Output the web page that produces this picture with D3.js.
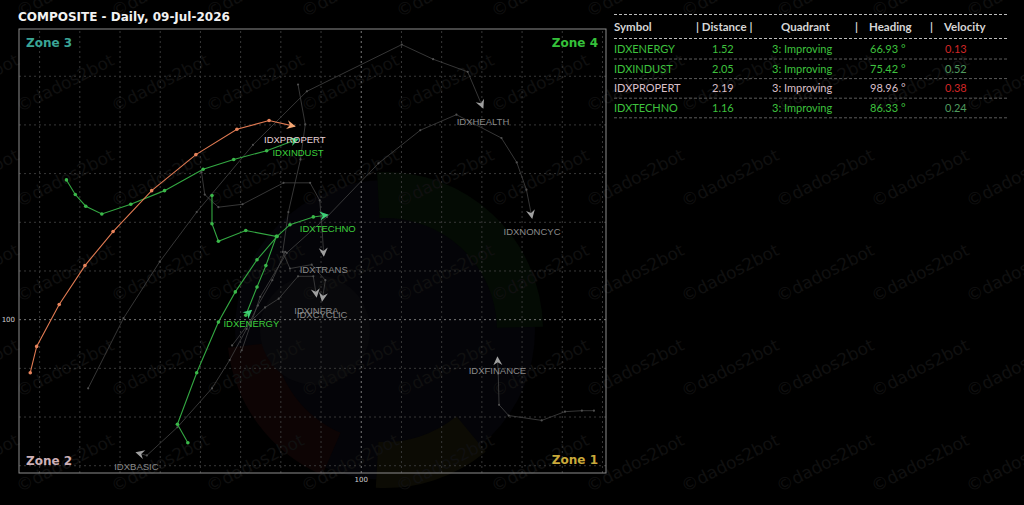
<!DOCTYPE html>
<html>
<head>
<meta charset="utf-8">
<script src="https://cdn.jsdelivr.net/npm/d3@7"></script>
<style>
    body { margin: 0; background: #000; }
    svg { display: block; }
</style>
</head>
<body>
<svg id="chart"></svg>
<script>
    // ---- DATA ----
    // table
    let symbols = ["IDXENERGY", "IDXINDUST", "IDXPROPERT", "IDXTECHNO"]
    let distances = ["1.52", "2.05", "2.19", "1.16"]
    let quadrants = ["3: Improving", "3: Improving", "3: Improving", "3: Improving"]
    let headings = ["66.93 °", "75.42 °", "98.96 °", "86.33 °"]
    let velocities = ["0.13", "0.52", "0.38", "0.24"]

    // tails: RS-ratio (x) and RS-momentum (y), oldest first
    let propertRatio = [95.89, 95.97, 96.25, 96.57, 96.92, 97.40, 97.95, 98.46, 98.86, 99.18]
    let propertMomentum = [99.45, 99.72, 100.15, 100.55, 100.90, 101.32, 101.69, 101.95, 102.04, 101.98]
    let industRatio = [96.34, 96.45, 96.58, 96.78, 97.14, 97.56, 98.04, 98.42, 98.83, 99.22]
    let industMomentum = [101.43, 101.28, 101.16, 101.08, 101.18, 101.32, 101.54, 101.64, 101.73, 101.85]
    let technoRatio = [97.85, 97.72, 97.96, 98.23, 98.44, 98.71, 98.96, 99.12, 99.41, 99.59]
    let technoMomentum = [98.73, 98.92, 99.45, 99.97, 100.28, 100.61, 100.85, 100.97, 101.05, 101.07]
    let energyRatio = [98.15, 98.15, 98.23, 98.57, 98.95, 98.82, 98.71, 98.57, 98.64]
    let energyMomentum = [101.27, 100.98, 100.80, 100.91, 100.85, 100.55, 100.33, 100.04, 100.09]
    let healthRatio = [96.61, 97.05, 97.50, 97.96, 98.66, 99.33, 100.51, 100.90, 101.33, 101.52]
    let healthMomentum = [99.29, 100.01, 100.59, 101.10, 101.79, 102.34, 102.82, 102.67, 102.54, 102.17]
    let noncycRatio = [98.52, 98.75, 99.08, 99.58, 100.22, 100.74, 101.19, 101.75, 101.94, 102.06, 102.13]
    let noncycMomentum = [99.68, 100.23, 100.68, 101.05, 101.60, 101.94, 102.10, 101.86, 101.61, 101.33, 101.04]
    let transRatio = [98.02, 98.06, 98.23, 98.53, 99.04, 99.37, 99.49, 99.52, 99.54]
    let transMomentum = [101.51, 101.28, 101.15, 101.18, 101.40, 101.40, 101.22, 100.92, 100.65]
    let cyclicRatio = [99.22, 99.31, 99.25, 99.10, 99.03, 99.12, 99.39, 99.56, 99.52]
    let cyclicMomentum = [102.41, 102.00, 101.64, 101.10, 100.69, 100.52, 100.56, 100.40, 100.19]
    let infraRatio = [98.40, 98.62, 98.81, 98.98, 99.22, 99.41, 99.45]
    let infraMomentum = [99.73, 99.97, 100.12, 100.21, 100.44, 100.44, 100.23]
    let basicRatio = [99.06, 98.90, 98.72, 98.58, 98.37, 98.15, 97.72, 97.34, 97.21]
    let basicMomentum = [100.69, 100.40, 100.14, 99.90, 99.58, 99.29, 98.89, 98.60, 98.63]
    let financeRatio = [102.90, 102.75, 102.54, 102.25, 101.84, 101.72, 101.71, 101.70]
    let financeMomentum = [99.06, 99.06, 99.05, 98.96, 99.01, 99.12, 99.44, 99.61]

    let xTicks = [100]
    let yTicks = [100]
    let zoneNames = ["Zone 1", "Zone 2", "Zone 3", "Zone 4"]

    let series = [
        { name: "IDXHEALTH", ratio: healthRatio, momentum: healthMomentum },
        { name: "IDXNONCYC", ratio: noncycRatio, momentum: noncycMomentum },
        { name: "IDXTRANS", ratio: transRatio, momentum: transMomentum },
        { name: "IDXCYCLIC", ratio: cyclicRatio, momentum: cyclicMomentum },
        { name: "IDXINFRA", ratio: infraRatio, momentum: infraMomentum },
        { name: "IDXBASIC", ratio: basicRatio, momentum: basicMomentum },
        { name: "IDXFINANCE", ratio: financeRatio, momentum: financeMomentum },
        { name: "IDXENERGY", ratio: energyRatio, momentum: energyMomentum },
        { name: "IDXTECHNO", ratio: technoRatio, momentum: technoMomentum },
        { name: "IDXINDUST", ratio: industRatio, momentum: industMomentum },
        { name: "IDXPROPERT", ratio: propertRatio, momentum: propertMomentum },
    ]

    // ---- LAYOUT ----
    let width = 1024, height = 505
    let plot = { left: 19, right: 606, top: 29, bottom: 473 }

    let svg = d3.select("#chart").attr("width", width).attr("height", height)
    svg.append("rect").attr("width", width).attr("height", height).attr("fill", "#000")

    let x = d3.scaleLinear().domain([95.75, 103.05]).range([plot.left, plot.right])
    let y = d3.scaleLinear().domain([98.42, 102.98]).range([plot.bottom, plot.top])

    drawLogo()
    drawWatermark()
    drawGrid()
    drawZones()
    drawTails()
    drawTitle()
    drawTable()

    function drawLogo() {
        // very faint background logo behind the plot
        let g = svg.append("g").attr("transform", "translate(385,330)")
        g.append("circle").attr("r", 150).attr("fill", "#040408")
        let arc = d3.arc().innerRadius(112).outerRadius(158)
        let parts = [
            { a0: -0.05, a1: 1.55, c: "#040b04" },
            { a0: 3.55, a1: 4.6, c: "#0d0404" },
            { a0: 2.45, a1: 3.2, c: "#0c0b04" },
        ]
        g.selectAll("path").data(parts).enter().append("path")
            .attr("d", d => arc({ startAngle: d.a0, endAngle: d.a1 }))
            .attr("fill", d => d.c)
        g.append("circle").attr("cx", -70).attr("cy", 0).attr("r", 55).attr("fill", "#08080b")
    }

    function drawWatermark() {
        let g = svg.append("g")
        for (let i = -1; i < 12; i++) {
            for (let j = -1; j < 6; j++) {
                let cx = 65 + 95 * i, cy = 83 + 95 * j
                g.append("text")
                    .attr("transform", `translate(${cx},${cy}) rotate(-27)`)
                    .attr("text-anchor", "middle")
                    .attr("dominant-baseline", "central")
                    .attr("font-family", "DejaVu Sans, sans-serif")
                    .attr("font-size", 17)
                    .attr("fill", "#101010")
                    .text("©dados2bot")
            }
        }
    }

    function drawGrid() {
        let plotH = plot.bottom - plot.top
        let plotW = plot.right - plot.left
        let gridX = d3.range(96, 103.01, 0.5).filter(v => v !== 100)
        let gridY = d3.range(98.5, 102.99, 0.5).filter(v => v !== 100)

        let gx = svg.append("g")
            .attr("transform", `translate(0,${plot.bottom})`)
            .call(d3.axisBottom(x).tickValues(gridX).tickSize(-plotH).tickFormat(""))
        let gy = svg.append("g")
            .attr("transform", `translate(${plot.left},0)`)
            .call(d3.axisLeft(y).tickValues(gridY).tickSize(-plotW).tickFormat(""))
        for (let g of [gx, gy]) {
            g.select(".domain").remove()
            g.selectAll("line").attr("stroke", "#383838").attr("stroke-dasharray", "2,3")
        }

        // centre lines + "100" labels
        let cx = svg.append("g")
            .attr("transform", `translate(0,${plot.bottom})`)
            .call(d3.axisBottom(x).tickValues(xTicks).tickSize(-plotH).tickPadding(4).tickFormat(d3.format("d")))
        let cy = svg.append("g")
            .attr("transform", `translate(${plot.left},0)`)
            .call(d3.axisLeft(y).tickValues(yTicks).tickSize(-plotW).tickPadding(4).tickFormat(d3.format("d")))
        for (let g of [cx, cy]) {
            g.select(".domain").remove()
            g.selectAll("line").attr("stroke", "#7a7a7a").attr("stroke-dasharray", "2,3")
            g.selectAll("text").attr("fill", "#d0d0d0").attr("font-size", 7)
                .attr("font-family", "DejaVu Sans, sans-serif")
        }

        svg.append("rect")
            .attr("x", plot.left).attr("y", plot.top)
            .attr("width", plotW).attr("height", plotH)
            .attr("fill", "none").attr("stroke", "#8c8c8c").attr("stroke-width", 1)
    }

    function drawZones() {
        let spots = {
            "Zone 3": { x: plot.left + 7, y: plot.top + 18, anchor: "start", color: "#3aa596" },
            "Zone 4": { x: plot.right - 8, y: plot.top + 18, anchor: "end", color: "#35c13a" },
            "Zone 2": { x: plot.left + 7, y: plot.bottom - 8, anchor: "start", color: "#cdb0b7" },
            "Zone 1": { x: plot.right - 8, y: plot.bottom - 9, anchor: "end", color: "#c9a93a" },
        }
        svg.append("g").selectAll("text").data(zoneNames).enter().append("text")
            .attr("x", d => spots[d].x)
            .attr("y", d => spots[d].y)
            .attr("text-anchor", d => spots[d].anchor)
            .attr("fill", d => spots[d].color)
            .attr("font-family", "DejaVu Sans, sans-serif")
            .attr("font-weight", "bold")
            .attr("font-size", 12)
            .text(d => d)
    }

    function styleOf(name) {
        if (name === "IDXPROPERT")
            return { line: "#e07a52", dot: "#e8845c", arrow: "#f4a674", label: "#e6d0d7", w: 1.1, r: 1.8 }
        if (["IDXENERGY", "IDXTECHNO", "IDXINDUST"].includes(name))
            return { line: "#33a842", dot: "#3bb84a", arrow: "#3fcf78", label: "#3dd03d", w: 1.1, r: 1.8 }
        return { line: "#444444", dot: "#505050", arrow: "#a0a0a0", label: "#8a8a8a", w: 0.8, r: 1.1 }
    }

    function drawTails() {
        let line = d3.line().x(d => x(d[0])).y(d => y(d[1]))
        let g = svg.append("g")
        series.forEach(s => {
            let st = styleOf(s.name)
            let pts = s.ratio.map((v, i) => [v, s.momentum[i]])
            g.append("path").attr("d", line(pts))
                .attr("fill", "none").attr("stroke", st.line).attr("stroke-width", st.w)
            g.selectAll(null).data(pts.slice(0, -1)).enter().append("circle")
                .attr("cx", d => x(d[0])).attr("cy", d => y(d[1]))
                .attr("r", st.r).attr("fill", st.dot)

            let a = pts[pts.length - 2], b = pts[pts.length - 1]
            let ang = Math.atan2(y(b[1]) - y(a[1]), x(b[0]) - x(a[0])) * 180 / Math.PI
            g.append("path")
                .attr("d", "M1,0 L-8,-4.5 L-5,0 L-8,4.5 Z")
                .attr("transform", `translate(${x(b[0])},${y(b[1])}) rotate(${ang})`)
                .attr("fill", st.arrow)
        })
        // labels on top
        series.forEach(s => {
            let st = styleOf(s.name)
            let n = s.ratio.length - 1
            g.append("text")
                .attr("x", x(s.ratio[n]))
                .attr("y", y(s.momentum[n]) + 17)
                .attr("text-anchor", "middle")
                .attr("font-family", "Liberation Sans, Arial, sans-serif")
                .attr("font-size", 9.5)
                .attr("fill", st.label)
                .text(s.name)
        })
    }

    function drawTitle() {
        svg.append("text")
            .attr("x", 18).attr("y", 21)
            .attr("fill", "#f2f2f2")
            .attr("font-family", "DejaVu Sans, sans-serif")
            .attr("font-weight", "bold")
            .attr("font-size", 12)
            .text("COMPOSITE - Daily, 09-Jul-2026")
    }

    function drawTable() {
        let g = svg.append("g").attr("font-family", "Lato, sans-serif")
        let left = 614, right = 1007
        let headers = [
            { t: "Symbol", x: 614 }, { t: "| Distance |", x: 696 }, { t: "Quadrant", x: 781 },
            { t: "|", x: 855 }, { t: "Heading", x: 869 }, { t: "|", x: 930 }, { t: "Velocity", x: 944 },
        ]
        g.selectAll(".hd").data(headers).enter().append("text")
            .attr("x", d => d.x).attr("y", 31)
            .attr("fill", "#d6d6d6").attr("font-weight", "bold").attr("font-size", 11.5)
            .text(d => d.t)

        let rowY = d => 53 + d * 19.6
        let dash = (yy, c) => g.append("line")
            .attr("x1", left).attr("x2", right).attr("y1", yy).attr("y2", yy)
            .attr("stroke", c).attr("stroke-dasharray", "3,2")
        dash(14.5, "#bdbdbd")
        dash(38.5, "#bdbdbd")
        symbols.forEach((s, i) => dash(rowY(i) + 6, "#5c5c5c"))

        let rowColor = s => s === "IDXPROPERT" ? "#d9bfc8" : "#3ec23e"
        let velColor = v => ["0.13", "0.38"].includes(v) ? "#d02626" : "#4f9a5e"
        let cols = [
            { vals: symbols, x: 614 }, { vals: distances, x: 712 }, { vals: quadrants, x: 772 },
            { vals: headings, x: 870 },
        ]
        cols.forEach(c => {
            g.selectAll(null).data(c.vals).enter().append("text")
                .attr("x", c.x).attr("y", (d, i) => rowY(i))
                .attr("fill", (d, i) => rowColor(symbols[i]))
                .attr("font-size", 11)
                .text(d => d)
        })
        g.selectAll(null).data(velocities).enter().append("text")
            .attr("x", 945).attr("y", (d, i) => rowY(i))
            .attr("fill", d => velColor(d))
            .attr("font-size", 11)
            .text(d => d)
    }
</script>
</body>
</html>
